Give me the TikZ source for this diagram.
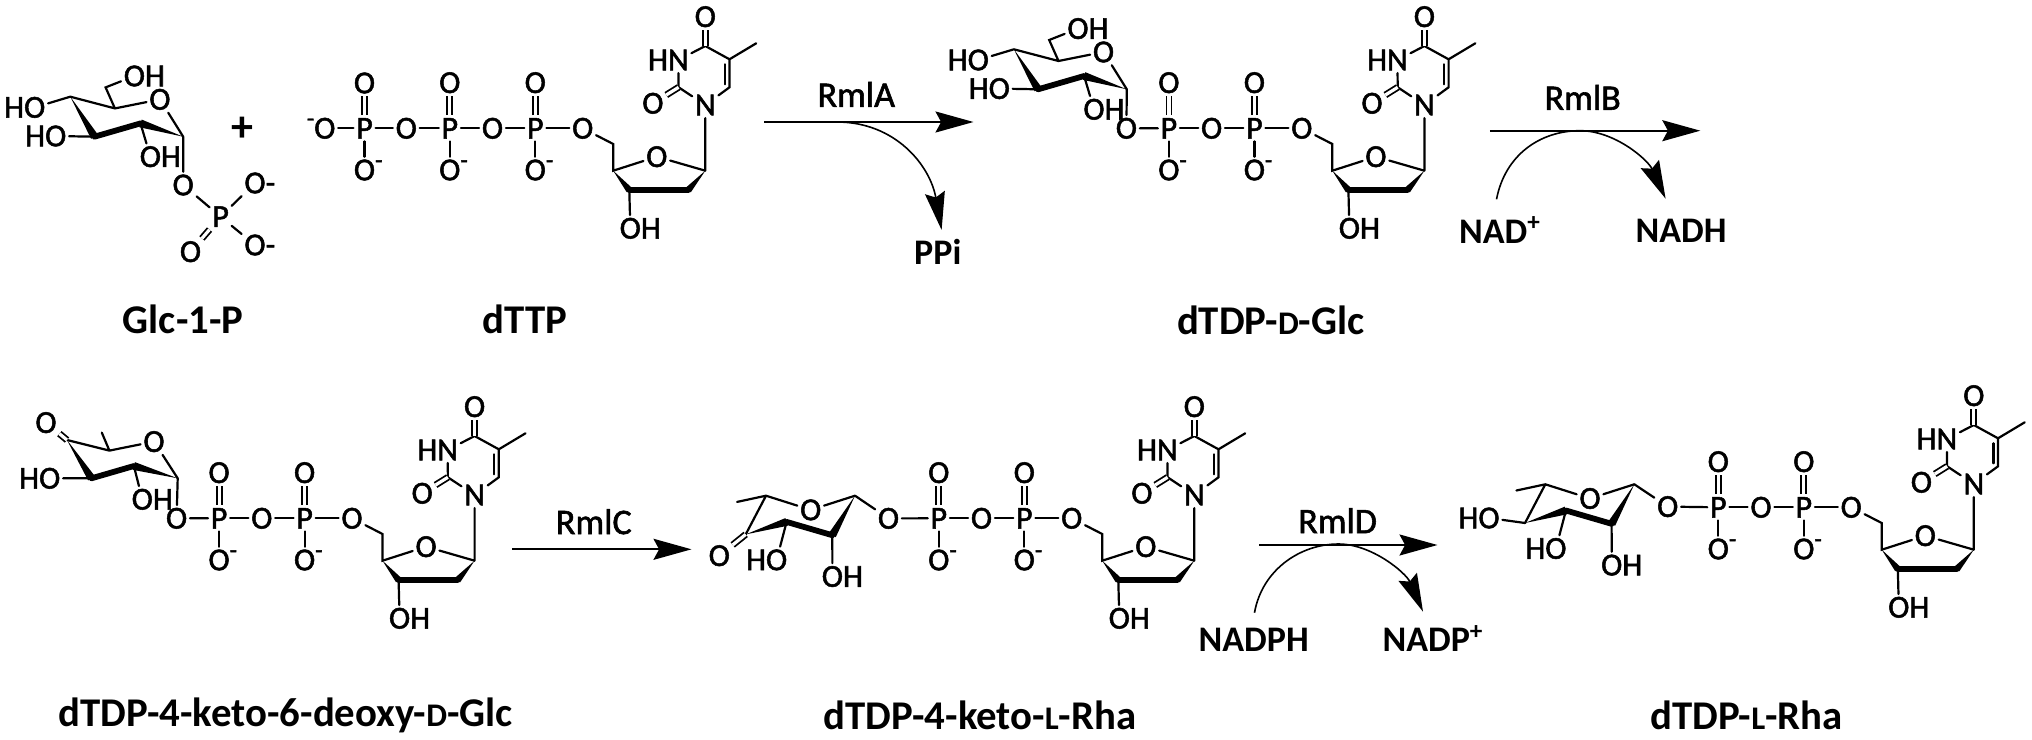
\documentclass[tikz,border=0pt]{standalone}
\usepackage{fontspec}
\setmainfont{Carlito}
\newfontfamily\atomfam[FakeBold=1.6]{Carlito}
\usetikzlibrary{calc,arrows.meta}
\newcommand{\atomsize}{\atomfam\fontsize{16}{16}\selectfont}
\newcommand{\enzsize}{\atomfam\fontsize{18}{18}\selectfont}
\newcommand{\cofsize}{\bfseries\fontsize{18}{18}\selectfont}
\newcommand{\namesize}{\bfseries\fontsize{20.4}{21}\selectfont}
\newcommand{\smallcap}[1]{{\fontsize{16.5}{16.5}\selectfont #1}}
\newcommand{\OHr}{O\rlap{H}}
\newcommand{\HOl}{\llap{H}O}
\newcommand{\HNl}{\llap{H}N}
\newcommand{\Om}{O\rlap{\raisebox{0.8ex}{\fontsize{12}{12}\selectfont -}}}
\newcommand{\mO}{\llap{\raisebox{0.8ex}{\fontsize{12}{12}\selectfont -}}O}
\newcommand{\Oh}{O\rlap{-}}
\newcommand{\wedgeb}[3]{\fill (#1) -- ($(#2)!#3!90:(#1)$) -- ($(#2)!#3!-90:(#1)$) -- cycle;}
\tikzset{
  atom/.style={font=\atomsize,inner sep=1.4pt,outer sep=0pt},
  bondl/.style={draw,line width=1.1pt,line cap=round},
  dbl/.style={draw,line width=0.9pt,double,double distance=1.6pt},
  boldb/.style={draw,line width=2.9pt,line cap=round},
  enz/.style={font=\enzsize,inner sep=0pt},
  cof/.style={font=\cofsize,inner sep=0pt},
  cname/.style={font=\namesize,inner sep=0pt},
  rxn/.style={draw,line width=1pt,-{Stealth[length=19pt,width=10.5pt,inset=2.8pt]}},
  side/.style={draw,line width=0.8pt,-{Stealth[length=19pt,width=10pt,inset=2.5pt]}},
  tail/.pic={
    \node[atom] (N1) at (0,0) {N};
    \coordinate (C1r) at (0,65.7);
    \coordinate (C2r) at (-17,85);
    \coordinate (C3r) at (-76,85);
    \coordinate (C4r) at (-92.1,65.7);
    \coordinate (C5r) at (-92.1,39);
    \node[atom] (O4r) at (-48.5,51.7) {O};
    \node[atom] (O5r) at (-122.6,23.3) {O};
    \node[atom] (O3r) at (-75,123.3) {\OHr};
    \coordinate (C6) at (24.2,-17.7);
    \coordinate (C5) at (24.2,-45.7);
    \coordinate (C4) at (0,-59);
    \coordinate (C2) at (-26.7,-17.7);
    \coordinate (Me) at (50.9,-61.7);
    \node[atom] (O4) at (0,-88.3) {O};
    \node[atom] (N3) at (-27,-45) {\HNl};
    \node[atom] (O2) at (-52.4,-1.7) {O};
    \node[atom] (Pb) at (-170,23.3) {P};
    \node[atom] (Ob1) at (-170,-22.3) {O};
    \node[atom] (Ob2) at (-170,65) {\Om};
    \node[atom] (Obr) at (-212.8,23.3) {O};
    \node[atom] (Pa) at (-255.5,23.3) {P};
    \node[atom] (Oa1) at (-255.5,-22.3) {O};
    \node[atom] (Oa2) at (-255.5,65) {\Om};
    \path[bondl] (N1) -- (C1r) (C1r) -- (O4r) -- (C4r) -- (C5r) -- (O5r)
      (C3r) -- (O3r)
      (N1) -- (C6) -- (C5) -- (C4) -- (N3) -- (C2) -- (N1) (C5) -- (Me);
    \path[bondl] ($(C5)+(-4.6,5)$) -- ($(C6)+(-4.6,-3)$);
    \path[dbl] (C4) -- (O4);
    \path[dbl] (C2) -- (O2);
    \wedgeb{C4r}{C3r}{1.7pt}
    \wedgeb{C1r}{C2r}{1.7pt}
    \path[boldb] (C3r) -- (C2r);
    \path[bondl] (O5r) -- (Pb) -- (Obr) -- (Pa) (Pb) -- (Ob2) (Pa) -- (Oa2);
    \path[dbl] (Pb) -- (Ob1);
    \path[dbl] (Pa) -- (Oa1);
  },
  glcring/.pic={
    \coordinate (C1) at (0,0);
    \coordinate (C2) at (-42.7,-13.3);
    \coordinate (C3) at (-88.7,0);
    \coordinate (C4) at (-112.9,-40);
    \coordinate (C5) at (-68.3,-28.3);
    \coordinate (C6) at (-77.6,-49.3);
    \node[atom] (O5) at (-23.3,-37.3) {O};
    \node[atom] (OH6) at (-48.8,-60.7) {\OHr};
    \node[atom] (OH4) at (-148.5,-29.3) {\HOl};
    \node[atom] (OH3) at (-127.5,-0.7) {\HOl};
    \node[atom] (OH2) at (-32.8,20) {\OHr};
    \path[bondl] (C4) -- (C5) -- (O5) -- (C1) (C5) -- (C6) -- (OH6)
      (C4) -- (OH4) (C3) -- (OH3) (C2) -- (OH2);
    \wedgeb{C4}{C3}{2pt}
    \wedgeb{C1}{C2}{2pt}
    \path[boldb] (C3) -- (C2);
  },
  ketoring/.pic={
    \coordinate (C1) at (0,0);
    \coordinate (C2) at (-43.8,-12.3);
    \coordinate (C3) at (-86.2,0);
    \coordinate (C4) at (-110.7,-38.3);
    \coordinate (C5) at (-68.3,-27.7);
    \coordinate (C6) at (-75.9,-45.7);
    \node[atom] (O5) at (-23.7,-36.7) {O};
    \node[atom] (O4) at (-131.7,-55.7) {O};
    \node[atom] (OH3) at (-128,0) {\HOl};
    \node[atom] (OH2) at (-35.4,21) {\OHr};
    \path[bondl] (C4) -- (C5) -- (O5) -- (C1) (C5) -- (C6)
      (C3) -- (OH3) (C2) -- (OH2);
    \path[dbl] (C4) -- (O4);
    \wedgeb{C4}{C3}{2pt}
    \wedgeb{C1}{C2}{2pt}
    \path[boldb] (C3) -- (C2);
  },
  rharing/.pic={
    \coordinate (C1) at (0,0);
    \coordinate (C2) at (-22.7,39.5);
    \coordinate (C3) at (-68.4,26.2);
    \coordinate (C4) at (-109.3,38.7);
    \coordinate (C5) at (-89,0);
    \coordinate (C6) at (-117.9,6.2);
    \node[atom] (O5) at (-44.3,14.2) {O};
    \node[atom] (OH3) at (-78.4,64.2) {\HOl};
    \node[atom] (OH2) at (-22.6,80.8) {\OHr};
    \path[bondl] (C6) -- (C5) -- (O5) -- (C1) (C5) -- (C4)
      (C3) -- (OH3) (C2) -- (OH2);
    \wedgeb{C4}{C3}{2pt}
    \wedgeb{C1}{C2}{2pt}
    \path[boldb] (C3) -- (C2);
  }
}
\begin{document}
\begin{tikzpicture}[x=0.5pt,y=-0.5pt]
\useasboundingbox (0,0) rectangle (2032,739);
% Glc-1-P
\pic (g-) at (183.2,136.7) {glcring};
\node[atom] (gO1) at (183.2,185) {O};
\node[atom] (gP) at (220.6,216.7) {P};
\node[atom] (gOa) at (255,183) {\Oh};
\node[atom] (gOb) at (255,245) {\Oh};
\node[atom] (gOc) at (190.5,251.7) {O};
\path[bondl] (g-C1) -- (gO1) -- (gP) -- (gOa) (gP) -- (gOb);
\path[dbl] (gP) -- (gOc);
\node[font=\bfseries\fontsize{22}{22}\selectfont,inner sep=0pt] (plus) at (242.4,129.3) {+};
\node[cname] (n1) at (183.2,319.3) {Glc-1-P};
% dTTP
\pic (t-) at (705.3,105) {tail};
\node[atom] (tObr) at (406.3,128.3) {O};
\node[atom] (tP) at (364.5,128.3) {P};
\node[atom] (tO1) at (364.5,83) {O};
\node[atom] (tO2) at (364.5,170) {\Om};
\node[atom] (tO3) at (324.8,128.3) {\mO};
\path[bondl] (t-Pa) -- (tObr) -- (tP) -- (tO3) (tP) -- (tO2);
\path[dbl] (tP) -- (tO1);
\node[cname] (n2) at (525,319.3) {dTTP};
% RmlA
\coordinate (a1) at (764,122);
\coordinate (a2) at (973.5,122);
\coordinate (a3) at (837,122);
\coordinate (a4) at (941.6,230);
\path[rxn] (a1) -- (a2);
\path[side] (a3) .. controls (895,122) and (930,165) .. (a4);
\node[enz] (eA) at (856.3,94.3) {RmlA};
\node[cof] (ppi) at (937.8,251.7) {PPi};
% dTDP-D-Glc
\pic (d-) at (1424.4,105) {tail};
\pic (dg-) at (1126.8,89.3) {glcring};
\node[atom] (dOa) at (1126.4,128.3) {O};
\path[bondl] (dg-C1) -- (dOa) -- (d-Pa);
\node[cname] (n3) at (1270.8,320) {dTDP-\smallcap{D}-Glc};
% RmlB
\coordinate (b1) at (1489.8,130.7);
\coordinate (b2) at (1700.3,130.7);
\coordinate (b3) at (1496.5,199.3);
\coordinate (b4) at (1580,130.7);
\coordinate (b5) at (1665.6,198.7);
\path[rxn] (b1) -- (b2);
\path[side] (b3) .. controls (1505,155) and (1540,130.7) .. (b4) .. controls (1615,130.7) and (1648,160) .. (b5);
\node[enz] (eB) at (1582.7,97.3) {RmlB};
\node[cof] (nad) at (1500,230) {NAD\textsuperscript{+}};
\node[cof] (nadh) at (1681,230.7) {NADH};
% keto-Glc
\pic (k-) at (474.6,495) {tail};
\pic (kg-) at (177.7,478.3) {ketoring};
\node[atom] (kOa) at (176.6,518.3) {O};
\path[bondl] (kg-C1) -- (kOa) -- (k-Pa);
\node[cname] (n4) at (285.7,715) {dTDP-4-keto-6-deoxy-\smallcap{D}-Glc};
% RmlC
\coordinate (c1) at (512,549.3);
\coordinate (c2) at (691.5,549.3);
\path[rxn] (c1) -- (c2);
\node[enz] (eC) at (593.8,521.7) {RmlC};
% keto-Rha
\pic (r-) at (1194.3,495) {tail};
\pic (rr-) at (855,495.7) {rharing};
\node[atom] (rOa) at (888.5,518.4) {O};
\node[atom] (rO4) at (719.3,555.7) {O};
\path[bondl] (rr-C1) -- (rOa) -- (r-Pa);
\path[dbl] (rr-C4) -- (rO4);
\node[cname] (n5) at (980,715) {dTDP-4-keto-\smallcap{L}-Rha};
% RmlD
\coordinate (d1) at (1259,545);
\coordinate (d2) at (1437.5,545);
\coordinate (d3) at (1254.5,612.7);
\coordinate (d4) at (1338.5,544);
\coordinate (d5) at (1423,611.7);
\path[rxn] (d1) -- (d2);
\path[side] (d3) .. controls (1262,570) and (1300,544) .. (d4) .. controls (1372,544) and (1406,573) .. (d5);
\node[enz] (eD) at (1337.6,520.7) {RmlD};
\node[cof] (nadph) at (1253.7,640) {NADPH};
\node[cof] (nadp) at (1433,638.3) {NADP\textsuperscript{+}};
% L-Rha
\pic (l-) at (1973.8,484) {tail};
\pic (lr-) at (1634.3,484.3) {rharing};
\node[atom] (lOa) at (1667.7,506.6) {O};
\node[atom] (lO4) at (1489,518) {\HOl};
\path[bondl] (lr-C1) -- (lOa) -- (l-Pa) (lr-C4) -- (lO4);
\node[cname] (n6) at (1746.6,715) {dTDP-\smallcap{L}-Rha};
\end{tikzpicture}
\end{document}
